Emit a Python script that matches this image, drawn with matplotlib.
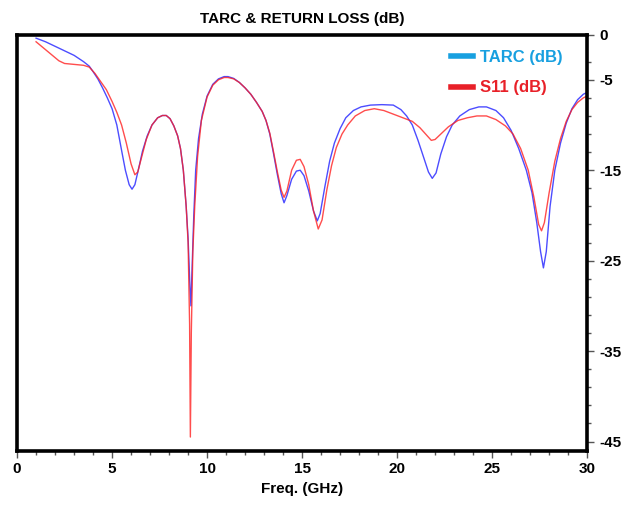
import matplotlib.pyplot as plt
from matplotlib.ticker import MultipleLocator, FixedLocator
from matplotlib.lines import Line2D

plt.rcParams['font.family'] = ['Liberation Sans', 'DejaVu Sans']
plt.rcParams['font.weight'] = 'bold'
plt.rcParams['axes.unicode_minus'] = False

# TARC (dB) trace
tarc_f = [1.0, 1.5, 2.0, 2.5, 3.0, 3.5, 3.8, 4.0, 4.25, 4.5, 4.75, 5.0, 5.25, 5.5, 5.7, 5.9, 6.05,
          6.2, 6.4, 6.6, 6.85, 7.1, 7.4, 7.65, 7.85, 8.05, 8.25, 8.45, 8.6, 8.75, 8.9, 9.0, 9.1,
          9.15, 9.2, 9.3, 9.4, 9.55, 9.75, 10.0, 10.3, 10.6, 10.9, 11.1, 11.4, 11.7, 12.0, 12.3,
          12.6, 12.9, 13.1, 13.3, 13.5, 13.7, 13.9, 14.05, 14.2, 14.45, 14.7, 14.9, 15.1, 15.35,
          15.6, 15.8, 15.95, 16.2, 16.45, 16.7, 17.0, 17.3, 17.7, 18.1, 18.6, 19.2, 19.8, 20.2,
          20.5, 20.8, 21.1, 21.4, 21.65, 21.85, 22.05, 22.3, 22.6, 22.9, 23.3, 23.8, 24.3, 24.7,
          25.2, 25.6, 26.0, 26.4, 26.8, 27.1, 27.35, 27.55, 27.7, 27.85, 28.05, 28.3, 28.6, 28.9,
          29.2, 29.5, 29.8, 30.0]
tarc_db = [-0.4, -0.8, -1.3, -1.8, -2.3, -3.0, -3.5, -4.1, -4.9, -5.9, -7.0, -8.2, -10.0, -12.8,
           -15.0, -16.6, -17.1, -16.6, -14.8, -12.9, -11.2, -10.0, -9.2, -8.95, -8.95, -9.3,
           -10.1, -11.2, -12.6, -15.0, -19.0, -22.5, -28.0, -30.0, -26.5, -20.0, -15.0, -11.5,
           -8.8, -6.8, -5.5, -4.9, -4.65, -4.65, -4.85, -5.3, -5.9, -6.6, -7.5, -8.5, -9.5,
           -11.0, -13.2, -15.5, -17.6, -18.6, -17.8, -16.0, -15.1, -15.0, -15.6, -17.3, -19.5,
           -20.6, -19.8, -16.8, -14.0, -12.0, -10.4, -9.2, -8.4, -8.0, -7.8, -7.75, -7.8, -8.3,
           -9.0, -10.0, -11.7, -13.6, -15.2, -15.9, -15.3, -13.2, -11.3, -10.0, -9.0, -8.3,
           -8.0, -8.0, -8.4, -9.2, -10.6, -12.6, -15.0, -17.5, -20.8, -24.0, -25.8, -24.0,
           -19.0, -15.0, -12.0, -9.8, -8.2, -7.2, -6.6, -6.4]

# S11 (dB) trace
s11_f = [1.0, 1.4, 1.8, 2.2, 2.5, 3.0, 3.5, 3.8, 4.1, 4.4, 4.7, 5.0, 5.25, 5.5, 5.75, 6.0, 6.2,
         6.35, 6.55, 6.8, 7.1, 7.4, 7.65, 7.85, 8.05, 8.25, 8.45, 8.6, 8.75, 8.9, 9.0, 9.08,
         9.12, 9.17, 9.25, 9.35, 9.5, 9.7, 10.0, 10.3, 10.6, 10.9, 11.1, 11.4, 11.7, 12.0,
         12.3, 12.6, 12.9, 13.1, 13.3, 13.5, 13.7, 13.9, 14.05, 14.2, 14.45, 14.7, 14.9, 15.1,
         15.35, 15.6, 15.85, 16.05, 16.3, 16.55, 16.8, 17.1, 17.4, 17.8, 18.3, 18.8, 19.3,
         19.8, 20.3, 20.8, 21.2, 21.5, 21.8, 22.0, 22.3, 22.7, 23.2, 23.7, 24.2, 24.7, 25.2,
         25.7, 26.1, 26.5, 26.9, 27.2, 27.45, 27.6, 27.75, 28.0, 28.3, 28.6, 28.9, 29.2, 29.5,
         29.8, 30.0]
s11_db = [-0.8, -1.5, -2.2, -2.9, -3.2, -3.3, -3.4, -3.6, -4.3, -5.2, -6.1, -7.4, -8.6, -10.0,
          -12.0, -14.3, -15.5, -15.2, -13.6, -11.6, -10.0, -9.2, -8.95, -8.95, -9.3, -10.1,
          -11.2, -12.6, -15.0, -19.0, -23.0, -32.0, -44.5, -33.0, -24.0, -19.0, -13.5, -9.5,
          -6.9, -5.6, -5.0, -4.75, -4.75, -4.9, -5.3, -5.9, -6.6, -7.5, -8.5, -9.5, -10.9,
          -13.0, -15.2, -17.2, -18.0, -17.3, -15.0, -13.9, -13.8, -14.6, -16.6, -19.5, -21.5,
          -20.5, -17.2, -14.5, -12.5, -11.0, -10.0, -9.0, -8.4, -8.2, -8.4, -8.8, -9.2, -9.6,
          -10.3, -11.0, -11.7, -11.6, -11.0, -10.2, -9.5, -9.2, -9.0, -9.0, -9.4, -10.1,
          -11.0, -12.6, -15.0, -18.0, -21.0, -21.7, -20.8, -17.5, -14.0, -11.5, -9.6, -8.3,
          -7.5, -7.0, -6.8]

y_labeled = [0, -5, -15, -25, -35, -45]

fig = plt.figure(figsize=(6.32, 5.08), dpi=100)
ax = fig.add_axes([0.027, 0.113, 0.902, 0.819])

ax.plot(tarc_f, tarc_db, color='#2020ff', lw=1.0, alpha=0.8)
ax.plot(s11_f, s11_db, color='#ff2020', lw=1.0, alpha=0.8)

ax.set_xlim(0, 30)
ax.set_ylim(-46, 0)
ax.xaxis.set_major_locator(MultipleLocator(5))
ax.xaxis.set_minor_locator(MultipleLocator(1))
ax.yaxis.tick_right()
ax.yaxis.set_major_locator(FixedLocator(y_labeled))
ax.yaxis.set_minor_locator(FixedLocator([-3] + list(range(-7, -46, -2))))
ax.tick_params(axis='both', which='both', direction='out', width=1, colors='#555555',
               labelcolor='black', labelsize=11)
ax.tick_params(axis='both', which='major', length=5)
ax.tick_params(axis='both', which='minor', length=3)
for lbl in ax.get_xticklabels() + ax.get_yticklabels():
    lbl.set_fontweight('bold')
for s in ax.spines.values():
    s.set_linewidth(2.6)

ax.set_title('TARC & RETURN LOSS (dB)', fontsize=11, fontweight='bold', pad=8)
ax.set_xlabel('Freq. (GHz)', fontsize=11, fontweight='bold', labelpad=4)

handles = [Line2D([], [], color='#18a0e0', lw=4),
           Line2D([], [], color='#e82028', lw=4)]
leg = ax.legend(handles, ['TARC (dB)', 'S11 (dB)'], loc='upper left', frameon=False,
                bbox_to_anchor=(0.735, 1.0), handlelength=1.3, handletextpad=0.45,
                labelspacing=0.95, prop={'size': 12, 'weight': 'bold'})
for txt, c in zip(leg.get_texts(), ['#18a0e0', '#e82028']):
    txt.set_color(c)

fig.savefig('out.png', dpi=100)
